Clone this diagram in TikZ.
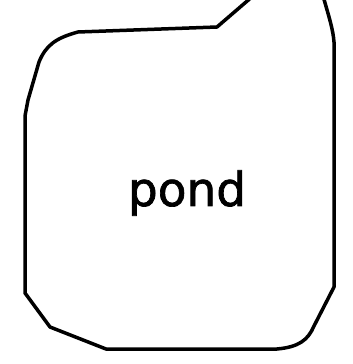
\documentclass[tikz,border=0pt]{standalone}
\usepackage{fontspec}
\newfontfamily\pondfont{DejaVu Sans}
\usetikzlibrary{positioning}

\begin{document}
\begin{tikzpicture}[
    x=1pt, y=-1pt,
    shoreline/.style ={draw=black, line width=3.5pt, line join=round, line cap=round},
    pondlabel/.style ={font=\pondfont\fontsize{47}{47}\selectfont, inner sep=0pt},
  ]
  % ---- frame: 1 unit = 1 pixel of the reference, y downwards ----
  \useasboundingbox (0,0) rectangle (353,364);
  \clip (0,0) rectangle (353,364);

  % ---- pond outline, open at the top edge ----
  \draw[shoreline] (253,-4) -- (217,27) -- (78,32)
    .. controls (56,38) and (46,45) .. (39,62)
    -- (28,100) -- (25,116) -- (25,293) -- (50,327) -- (106,349) -- (277,349)
    .. controls (299,347) and (308,340) .. (314,326)
    -- (334,287) -- (334,42)
    .. controls (333,30) and (330,20) .. (323,-4);

  % ---- label ----
  \node[pondlabel] (pond) at (187,193) {\addfontfeature{FakeBold=1.5}pond};
\end{tikzpicture}
\end{document}
